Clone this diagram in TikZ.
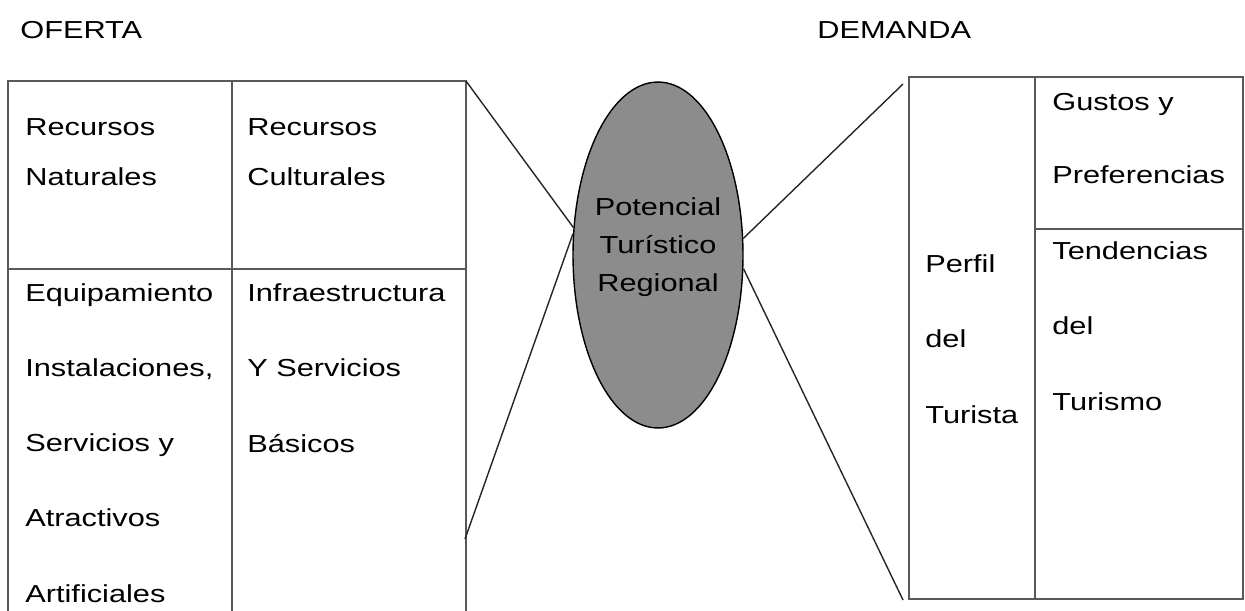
\documentclass[tikz,border=0pt]{standalone}
\usepackage{fontspec}
\setmainfont{Liberation Sans}[FakeStretch=1.25]
\usetikzlibrary{shapes.geometric,positioning}

\begin{document}
\begin{tikzpicture}[x=0.02cm,y=-0.02cm,font=\fontsize{14}{21.6}\selectfont,
    cell/.style={anchor=base west,align=left,inner sep=0pt,font=\fontsize{14}{#1}\selectfont},
    rule/.style={draw=black!65,line width=0.6pt},
    link/.style={draw=black!85,line width=0.8pt}]
   \useasboundingbox (0,0) rectangle (1245,610);
   \node[anchor=base west,inner sep=0pt] (oferta) at (20,38) {OFERTA};
   \node[anchor=base west,inner sep=0pt] (demanda) at (817,38) {DEMANDA};
   \draw[rule] (8,625) -- (8,81) -- (466,81) -- (466,625);
   \draw[rule] (232,81) -- (232,625) (8,269) -- (466,269);
   \draw[rule] (909,77) rectangle (1243,599);
   \draw[rule] (1035,77) -- (1035,599) (1035,229) -- (1243,229);
   \node[cell=28.45] (recnat) at (25,185) {Recursos\\Naturales};
   \node[cell=28.45] (reccul) at (247,185) {Recursos\\Culturales};
   \node[cell=42.7] (equip) at (25,602) {Equipamiento\\Instalaciones,\\Servicios y\\Atractivos\\Artificiales};
   \node[cell=42.7] (infra) at (247,452) {Infraestructura\\Y Servicios\\Básicos};
   \node[cell=42.7] (perfil) at (925,423) {Perfil\\del\\Turista};
   \node[cell=41.5] (gustos) at (1052,183) {Gustos y\\Preferencias};
   \node[cell=42.7] (tend) at (1052,410) {Tendencias\\del\\Turismo};
   \node[ellipse,draw,fill=black!45,line width=0.8pt,inner sep=0pt,
         minimum width=3.4cm,minimum height=6.92cm] (pot) at (658,255) {};
   \node[anchor=base,align=center,inner sep=0pt] (potlbl) at (658,291) {Potencial\\Turístico\\Regional};
   \coordinate (ltop) at (466,81);
   \coordinate (lside) at (465,539);
   \coordinate (rtop) at (903,84);
   \coordinate (rbot) at (903,600);
   \path[link]
    (ltop) edge (pot.162)
    (lside) edge (pot.166)
    (pot.11) edge (rtop)
    (pot.-9) edge (rbot);
\end{tikzpicture}
\end{document}
